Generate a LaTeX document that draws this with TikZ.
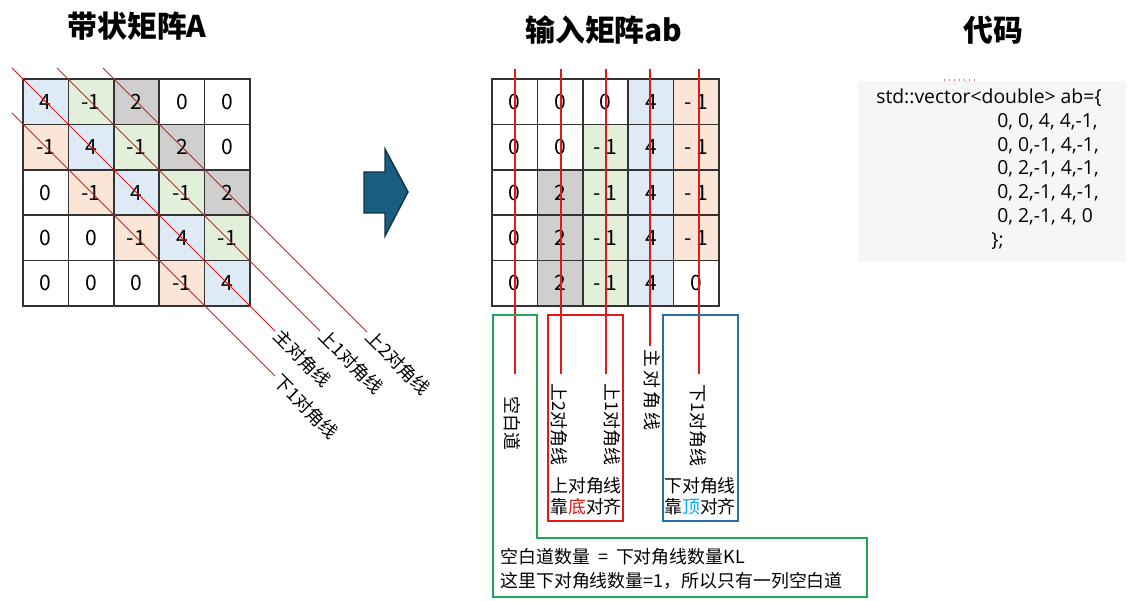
\documentclass[tikz,border=0pt]{standalone}
\usepackage{fontspec}
\setmainfont{Noto Sans CJK SC}
\newfontfamily\codefont{Open Sans}
\usetikzlibrary{calc}
\definecolor{cdiag}{RGB}{222,235,247}
\definecolor{cupa}{RGB}{226,240,217}
\definecolor{cupb}{RGB}{208,206,206}
\definecolor{clow}{RGB}{251,229,214}
\definecolor{cred}{RGB}{225,25,25}
\definecolor{cgreen}{RGB}{35,165,85}
\definecolor{cblue}{RGB}{40,110,170}
\definecolor{ccyan}{RGB}{0,176,240}
\definecolor{carrow}{RGB}{25,93,128}
\definecolor{ccode}{RGB}{246,246,246}

\begin{document}
\begin{tikzpicture}[x=0.02cm,y=-0.02cm,
   cell/.style={draw=black!80,line width=0.8pt,minimum size=0.908cm,inner sep=0pt,font=\fontsize{12}{14}\selectfont},
   title/.style={font=\fontsize{17}{20}\selectfont\bfseries},
   lab/.style={font=\fontsize{10.2}{12}\selectfont,inner sep=0pt},
   dlab/.style={lab,rotate=-45,anchor=west,inner sep=1.5pt},
   vlab/.style={lab,rotate=-90,anchor=west},
   redline/.style={draw=cred,line width=0.6pt},
   code/.style={font=\codefont\fontsize{11}{13}\selectfont,anchor=base west,inner sep=0pt}]
  \useasboundingbox (0,0) rectangle (1134,601);
  % titles
  \node[title] (tA)  at (137,26) {带状矩阵A};
  \node[title] (tab) at (604,30) {输入矩阵ab};
  \node[title] (tc)  at (993,30) {代码};
  % band matrix A
  \foreach \row [count=\r] in {{4/cdiag,-1/cupa,2/cupb,0/white,0/white},
                               {-1/clow,4/cdiag,-1/cupa,2/cupb,0/white},
                               {0/white,-1/clow,4/cdiag,-1/cupa,2/cupb},
                               {0/white,0/white,-1/clow,4/cdiag,-1/cupa},
                               {0/white,0/white,0/white,-1/clow,4/cdiag}}
    \foreach \val/\f [count=\c] in \row
      \node[cell,fill=\f] (A\r\c) at ({23+45.4*(\c-0.5)},{79+45.4*(\r-0.5)}) {\val};
  % diagonals of A
  \node[dlab] (dm)  at (275,331) {主对角线};
  \node[dlab] (du1) at (320,331) {上1对角线};
  \node[dlab] (du2) at (367,332) {上2对角线};
  \node[dlab] (dl1) at (275,376) {下1对角线};
  \coordinate (dm-t)  at (12,68);
  \coordinate (du1-t) at (57,68);
  \coordinate (du2-t) at (103,68);
  \coordinate (dl1-t) at (12,113);
  \foreach \n in {dm,du1,du2,dl1}
    \draw[redline] (\n-t) -- (\n.west);
  % arrow
  \filldraw[fill=carrow,draw=carrow!55!black,line width=0.8pt]
    (364,172) -- (385,172) -- (385,149) -- (408,192) -- (385,236) -- (385,213) -- (364,213) -- cycle;
  % input matrix ab
  \foreach \row [count=\r] in {{0/white,0/white,0/white,4/cdiag,- 1/clow},
                               {0/white,0/white,- 1/cupa,4/cdiag,- 1/clow},
                               {0/white,2/cupb,- 1/cupa,4/cdiag,- 1/clow},
                               {0/white,2/cupb,- 1/cupa,4/cdiag,- 1/clow},
                               {0/white,2/cupb,- 1/cupa,4/cdiag,0/white}}
    \foreach \val/\f [count=\c] in \row
      \node[cell,fill=\f] (B\r\c) at ({492+45.4*(\c-0.5)},{79+45.4*(\r-0.5)}) {\val};
  % columns of ab
  \node[vlab] (kb) at (512,396) {空白道};
  \node[vlab] (u2) at (559,383) {上2对角线};
  \node[vlab] (u1) at (612,383) {上1对角线};
  \node[vlab] (mn) at (652,349) {{\addfontfeature{LetterSpace=18}主对角线}};
  \node[vlab] (l1) at (698,384) {下1对角线};
  \foreach \n/\x/\s in {kb/515/0.44,u2/561/0.18,u1/606/0.18,mn/650/0.06,l1/699/0.2}{
    \coordinate (\n-t) at (\x,69);
    \draw[redline,line width=0.8pt,shorten >=\s cm] (\n-t) -- (\n-t |- \n.west);
  }
  % boxes
  \draw[cred,line width=1.1pt]  (548,315) rectangle (623,521);
  \draw[cblue,line width=1.1pt] (663,315) rectangle (738,521);
  \draw[cgreen,line width=1.1pt] (493,315) -- (537,315) -- (537,538) -- (867,538)
    -- (867,597) -- (493,597) -- cycle;
  \node[lab,align=left] (upt) at (586,496) {上对角线\\靠{\color{cred}底}对齐};
  \node[lab,align=left] (lot) at (700,496) {下对角线\\靠{\color{ccyan}顶}对齐};
  \node[lab,align=left,anchor=west,font=\fontsize{10.2}{13.8}\selectfont] (note) at (500,569)
    {空白道数量\hspace{0.45em}=\hspace{0.45em}下对角线数量KL\\这里下对角线数量=1，所以只有一列空白道};
  % code
  \fill[ccode] (858,81) rectangle (1126,262);
  \draw[cred!60,dotted,line width=0.8pt] (944,80) -- (976,80);
  \node[code] (c0) at (876,103.5) {std::vector<double> ab=\{};
  \foreach \t [count=\i] in {{0, 0, 4, 4,-1,},{0, 0,-1, 4,-1,},{0, 2,-1, 4,-1,},
                             {0, 2,-1, 4,-1,},{0, 2,-1, 4, 0}}
    \node[code] (c\i) at (997,{103.5+23.8*\i}) {\t};
  \node[code] (c6) at (991,{103.5+23.8*6}) {\};};
\end{tikzpicture}
\end{document}
